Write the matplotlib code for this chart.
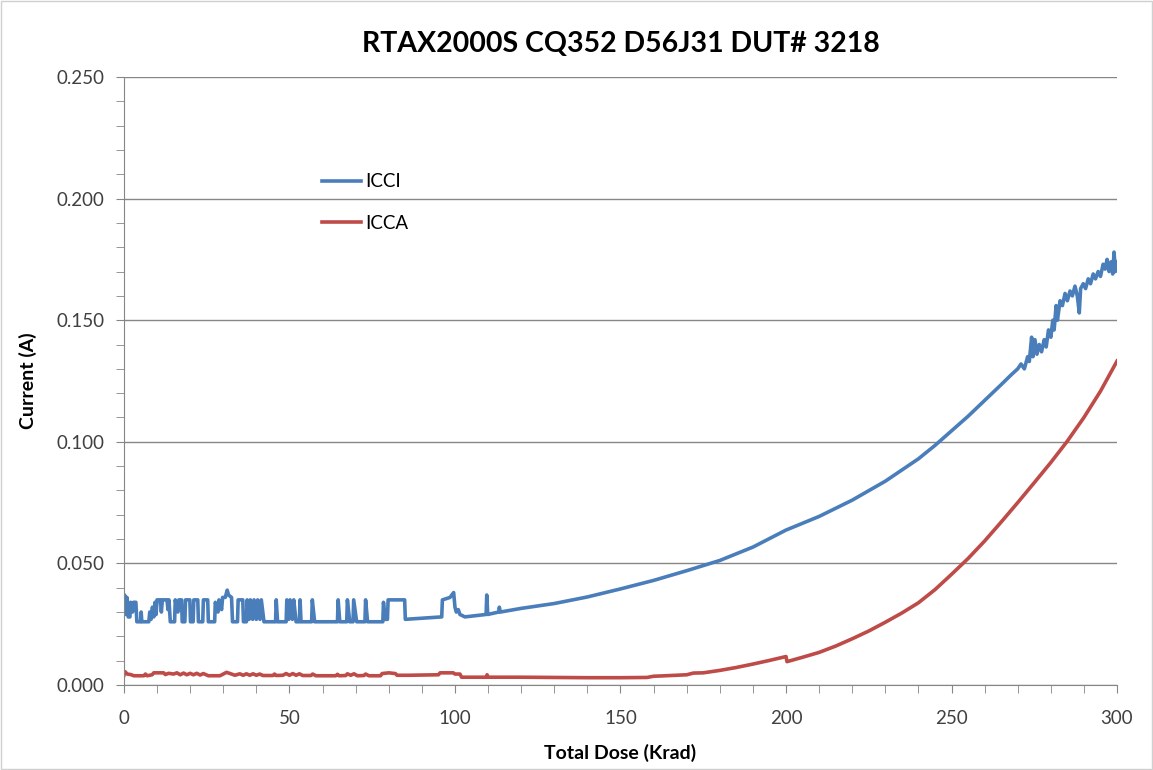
import numpy as np
import matplotlib
matplotlib.use('Agg')
import matplotlib.pyplot as plt
from matplotlib.ticker import MultipleLocator, FormatStrFormatter
from matplotlib.patches import Rectangle

plt.rcParams['font.family'] = ['Lato', 'DejaVu Sans']

# ICCI (A) vs total dose (Krad)
icci_dose = [0, 0.2, 0.6, 0.9, 1.3, 1.8, 2.0, 2.6, 2.9, 3.6, 3.9, 5.0, 5.2, 5.4, 7.5, 7.8,
             8.2, 8.6, 9.0, 9.4, 9.7, 10.0, 11.0, 11.3, 11.6, 13.0, 13.3, 13.6, 14.0, 15.3,
             15.5, 16.3, 16.6, 17.4, 17.6, 18.4, 18.6, 19.9, 20.1, 20.9, 21.1, 22.3, 22.5,
             23.8, 24.0, 25.3, 25.5, 27.4, 27.6, 28.4, 28.7, 29.5, 29.8, 30.6, 31.2, 31.6,
             32.5, 32.8, 34.3, 34.5, 35.9, 36.1, 37.0, 37.2, 37.8, 38.2, 38.9, 39.3, 40.0,
             40.4, 41.1, 41.5, 42.3, 45.8, 46.0, 46.4, 49.0, 49.2, 49.8, 50.2, 50.9, 51.3,
             52.0, 53.0, 53.2, 53.5, 56.7, 56.9, 57.6, 64.5, 64.7, 65.2, 67.3, 67.5, 68.2,
             69.2, 69.4, 70.3, 72.8, 73.0, 73.6, 78.2, 78.4, 78.9, 79.6, 79.8, 84.8, 85.0,
             96.0, 96.2, 98.5, 99.6, 100.0, 100.4, 101.0, 101.5, 103.0, 109.4, 109.6, 109.9,
             113.2, 113.4, 113.7, 120, 130, 140, 150, 160, 170, 180, 190, 200, 210, 220, 230,
             240, 245, 250, 255, 260, 265, 268, 270, 271, 272, 273, 273.5, 274.2, 274.6, 275.2,
             275.8, 276.5, 277.2, 278, 278.6, 279.3, 280, 280.6, 281, 281.6, 282, 282.8, 283.5,
             284.3, 285, 285.8, 286.5, 287.3, 288, 288.6, 289, 289.8, 290.5, 291.3, 292, 292.8,
             293.5, 294.3, 295, 295.8, 296.4, 297, 297.6, 298.2, 298.7, 299.1, 299.5, 300]
icci = [0.030, 0.037, 0.029, 0.036, 0.028, 0.028, 0.034, 0.030, 0.034, 0.034, 0.026, 0.026,
        0.030, 0.026, 0.026, 0.030, 0.027, 0.032, 0.028, 0.034, 0.029, 0.035, 0.035, 0.030,
        0.035, 0.035, 0.031, 0.035, 0.026, 0.026, 0.035, 0.030, 0.035, 0.035, 0.026, 0.026,
        0.035, 0.035, 0.026, 0.026, 0.035, 0.035, 0.026, 0.026, 0.035, 0.035, 0.026, 0.026,
        0.034, 0.030, 0.035, 0.031, 0.036, 0.036, 0.039, 0.037, 0.036, 0.026, 0.026, 0.035,
        0.035, 0.026, 0.026, 0.035, 0.027, 0.035, 0.027, 0.035, 0.027, 0.035, 0.027, 0.035,
        0.026, 0.026, 0.035, 0.026, 0.026, 0.035, 0.027, 0.035, 0.027, 0.035, 0.026, 0.026,
        0.035, 0.026, 0.026, 0.035, 0.026, 0.026, 0.035, 0.026, 0.026, 0.035, 0.026, 0.026,
        0.035, 0.026, 0.026, 0.035, 0.026, 0.026, 0.034, 0.027, 0.027, 0.035, 0.035, 0.027,
        0.028, 0.035, 0.036, 0.038, 0.032, 0.030, 0.031, 0.029, 0.028, 0.029, 0.037, 0.029,
        0.030, 0.032, 0.030, 0.0315, 0.0335, 0.0362, 0.0395, 0.043, 0.047, 0.0512, 0.0567,
        0.0637, 0.0693, 0.076, 0.0838, 0.0930, 0.0985, 0.1045, 0.1105, 0.117, 0.1235, 0.1275,
        0.130, 0.132, 0.130, 0.135, 0.133, 0.143, 0.135, 0.142, 0.136, 0.140, 0.137, 0.142,
        0.139, 0.146, 0.143, 0.150, 0.146, 0.156, 0.150, 0.158, 0.156, 0.161, 0.158, 0.162,
        0.160, 0.164, 0.160, 0.153, 0.163, 0.165, 0.163, 0.167, 0.165, 0.169, 0.167, 0.170,
        0.168, 0.173, 0.171, 0.175, 0.170, 0.174, 0.169, 0.178, 0.170, 0.174]

# ICCA (A) vs total dose (Krad)
icca_dose = [0, 0.3, 1, 2, 3, 6, 6.5, 7, 8.5, 9, 12, 12.5, 13.5, 15, 16, 17, 18, 19, 20, 21,
             22, 23, 24, 25.5, 29, 30, 31, 32.5, 33.5, 35, 36, 37, 38, 39, 40, 41, 42, 45,
             45.5, 46, 48, 49, 50, 51, 52, 53, 54, 56.5, 57, 58, 64, 64.5, 65, 67, 67.5, 68.5,
             69.5, 70.5, 72.5, 73, 74, 77.5, 78, 80, 82, 82.5, 86, 95, 95.5, 99.5, 100, 101.5,
             102, 109.4, 109.7, 110, 120, 130, 140, 150, 158, 160, 162, 170, 172, 175, 180,
             185, 190, 195, 200, 200.3, 205, 210, 215, 220, 225, 230, 235, 240, 245, 250, 255,
             260, 265, 270, 275, 280, 285, 290, 295, 300]
icca = [0.0040, 0.0055, 0.0045, 0.0043, 0.0038, 0.0038, 0.0045, 0.0038, 0.0042, 0.0050,
        0.0050, 0.0043, 0.0048, 0.0045, 0.0050, 0.0042, 0.0049, 0.0042, 0.0048, 0.0042,
        0.0048, 0.0041, 0.0047, 0.0038, 0.0038, 0.0045, 0.0052, 0.0045, 0.0040, 0.0046,
        0.0040, 0.0046, 0.0040, 0.0046, 0.0040, 0.0045, 0.0039, 0.0039, 0.0045, 0.0039,
        0.0040, 0.0047, 0.0040, 0.0047, 0.0040, 0.0046, 0.0039, 0.0039, 0.0045, 0.0038,
        0.0038, 0.0044, 0.0038, 0.0039, 0.0046, 0.0040, 0.0046, 0.0038, 0.0039, 0.0045,
        0.0038, 0.0038, 0.0047, 0.0050, 0.0047, 0.0040, 0.0040, 0.0042, 0.0050, 0.0050,
        0.0045, 0.0045, 0.0032, 0.0032, 0.0042, 0.0032, 0.0032, 0.0031, 0.0030, 0.0030,
        0.0031, 0.0036, 0.0037, 0.0042, 0.0049, 0.0050, 0.0060, 0.0072, 0.0086, 0.0101,
        0.0117, 0.0096, 0.0114, 0.0134, 0.0160, 0.0190, 0.0222, 0.0258, 0.0296, 0.0338,
        0.0392, 0.0455, 0.0520, 0.0592, 0.0670, 0.0750, 0.0832, 0.0915, 0.1003, 0.1100,
        0.1208, 0.1332]

blue = '#4a7ebb'
red = '#be4b48'
grey = '#868686'

fig = plt.figure(figsize=(11.53, 7.70), dpi=100)
ax = fig.add_axes([0.1075, 0.1104, 0.8613, 0.7896])

ax.plot(icci_dose, icci, color=blue, linewidth=2.6, label='ICCI', solid_joinstyle='round')
ax.plot(icca_dose, icca, color=red, linewidth=2.6, label='ICCA', solid_joinstyle='round')

ax.set_xlim(0, 300)
ax.set_ylim(0, 0.25)
ax.xaxis.set_major_locator(MultipleLocator(50))
ax.xaxis.set_minor_locator(MultipleLocator(10))
ax.yaxis.set_major_locator(MultipleLocator(0.05))
ax.yaxis.set_minor_locator(MultipleLocator(0.01))
ax.yaxis.set_major_formatter(FormatStrFormatter('%.3f'))

ax.grid(axis='y', which='major', color=grey, linewidth=1)
ax.set_axisbelow(True)
for s in ['top', 'right']:
    ax.spines[s].set_visible(False)
for s in ['left', 'bottom']:
    ax.spines[s].set_color(grey)
ax.tick_params(which='both', direction='out', color=grey, length=6, labelsize=13.5,
               labelcolor='#404040')
ax.tick_params(axis='x', pad=12)
ax.tick_params(axis='y', pad=8)

ax.set_title('RTAX2000S CQ352 D56J31 DUT# 3218', fontsize=20.5, fontweight='bold', pad=18)
ax.set_xlabel('Total Dose (Krad)', fontsize=14, fontweight='bold', labelpad=12)
ax.set_ylabel('Current (A)', fontsize=14, fontweight='bold', labelpad=14)

ax.legend(loc='upper left', bbox_to_anchor=(0.19, 0.857), frameon=False, fontsize=13.5,
          handlelength=2.1, handletextpad=0.2, labelspacing=1.3, borderpad=0)

fig.patches.append(Rectangle((0.001, 0.001), 0.998, 0.998, transform=fig.transFigure,
                             fill=False, edgecolor='#d0d0d0', linewidth=1))

fig.savefig('out.png', dpi=100)
